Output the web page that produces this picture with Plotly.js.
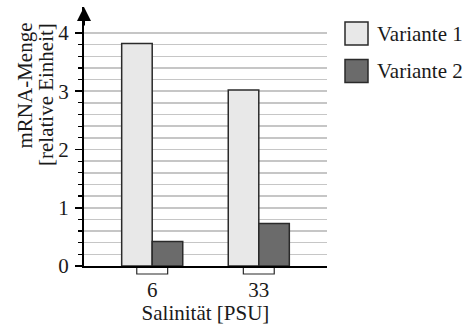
<!DOCTYPE html>
<html><head><meta charset="utf-8">
<script src="https://cdn.plot.ly/plotly-3.0.1.min.js"></script>
<style>html,body{margin:0;padding:0;background:#fff;}#chart{width:464px;height:325px;}</style>
</head><body><div id="chart"></div>
<script>
const categories = ['6', '33'];
const seriesNames = ['Variante 1', 'Variante 2'];
const variante1 = [3.82, 3.02];
const variante2 = [0.42, 0.73];
const yTickVals = [0, 1, 2, 3, 4];
const yTickText = ['0', '1', '2', '3', '4'];
const yMinorVals = [0.2,0.4,0.6,0.8,1.2,1.4,1.6,1.8,2.2,2.4,2.6,2.8,3.2,3.4,3.6,3.8];
const xTitle = 'Salinität [PSU]';
const yTitleLines = ['mRNA-Menge', '[relative Einheit]'];

const fills = ['#e8e8e8', '#6b6b6b'];
const outline = '#2a2a2a';
const font = 'Liberation Serif, Times New Roman, serif';
const fs = 21;
const values = [variante1, variante2];

const traces = values.map((v, i) => ({
  type: 'bar', x: categories, y: v, name: seriesNames[i],
  marker: {color: fills[i], line: {color: outline, width: 1.5}},
  showlegend: false, hoverinfo: 'none'
}));

const shapes = [];
const annotations = [];
categories.forEach((c, i) => {
  shapes.push({type: 'rect', xref: 'x', yref: 'paper', x0: i - 0.145, x1: i + 0.145,
    y0: -8/259, y1: 0, line: {color: outline, width: 1.2}, fillcolor: '#fff', layer: 'below'});
});
seriesNames.forEach((n, i) => {
  shapes.push({type: 'rect', xref: 'paper', yref: 'paper', xsizemode: 'pixel', ysizemode: 'pixel',
    xanchor: 1, yanchor: 1, x0: 18, x1: 41, y0: -15 - 37.5*i, y1: -38 - 37.5*i,
    fillcolor: fills[i], line: {color: outline, width: 1.5}});
  annotations.push({xref: 'paper', yref: 'paper', x: 1, y: 1, xshift: 48, yshift: -26.5 - 37.5*i,
    xanchor: 'left', yanchor: 'middle', showarrow: false, text: n,
    font: {family: font, size: fs, color: '#1a1a1a'}});
});
const yTitleX = [24.5, 45.5];
yTitleLines.forEach((t, i) => {
  annotations.push({xref: 'paper', yref: 'paper', x: (yTitleX[i]-84)/243, y: (266-21)/259,
    xanchor: 'center', yanchor: 'top', textangle: -90, showarrow: false,
    text: t, font: {family: font, size: fs, color: '#1a1a1a'}});
});
annotations.push({xref: 'paper', yref: 'paper', x: 0, y: 1, ax: 0, ay: 20, showarrow: true,
  arrowhead: 2, arrowsize: 1.4, arrowwidth: 2, arrowcolor: '#000', text: '', standoff: 0});

const layout = {
  width: 464, height: 325,
  margin: {l: 84, r: 137, t: 7, b: 59, pad: 0},
  paper_bgcolor: '#fff', plot_bgcolor: '#fff',
  barmode: 'group', bargap: 0.427, bargroupgap: 0,
  font: {family: font, size: fs, color: '#1a1a1a'},
  xaxis: {type: 'category', range: [-0.64, 1.64], showline: true, linecolor: '#000', linewidth: 2,
    ticks: '', showgrid: false, zeroline: false, ticklabelstandoff: 4,
    tickfont: {family: font, size: fs, color: '#1a1a1a'},
    title: {text: xTitle, font: {family: font, size: fs, color: '#1a1a1a'}, standoff: 4}},
  yaxis: {range: [0, 4.446], showline: true, linecolor: '#000', linewidth: 2, zeroline: false,
    tickmode: 'array', tickvals: yTickVals, ticktext: yTickText,
    ticks: 'outside', ticklen: 7, tickwidth: 1.5, tickcolor: '#000',
    showgrid: true, gridcolor: '#c6c6c6', gridwidth: 1.5,
    tickfont: {family: font, size: fs, color: '#1a1a1a'}, ticklabelstandoff: 2,
    minor: {tickmode: 'array', tickvals: yMinorVals, ticks: 'outside', ticklen: 4, tickwidth: 1.2,
      tickcolor: '#000', showgrid: true, gridcolor: '#c6c6c6', gridwidth: 1.5}},
  shapes: shapes, annotations: annotations
};
Plotly.newPlot('chart', traces, layout, {displayModeBar: false, staticPlot: true});
</script></body></html>
